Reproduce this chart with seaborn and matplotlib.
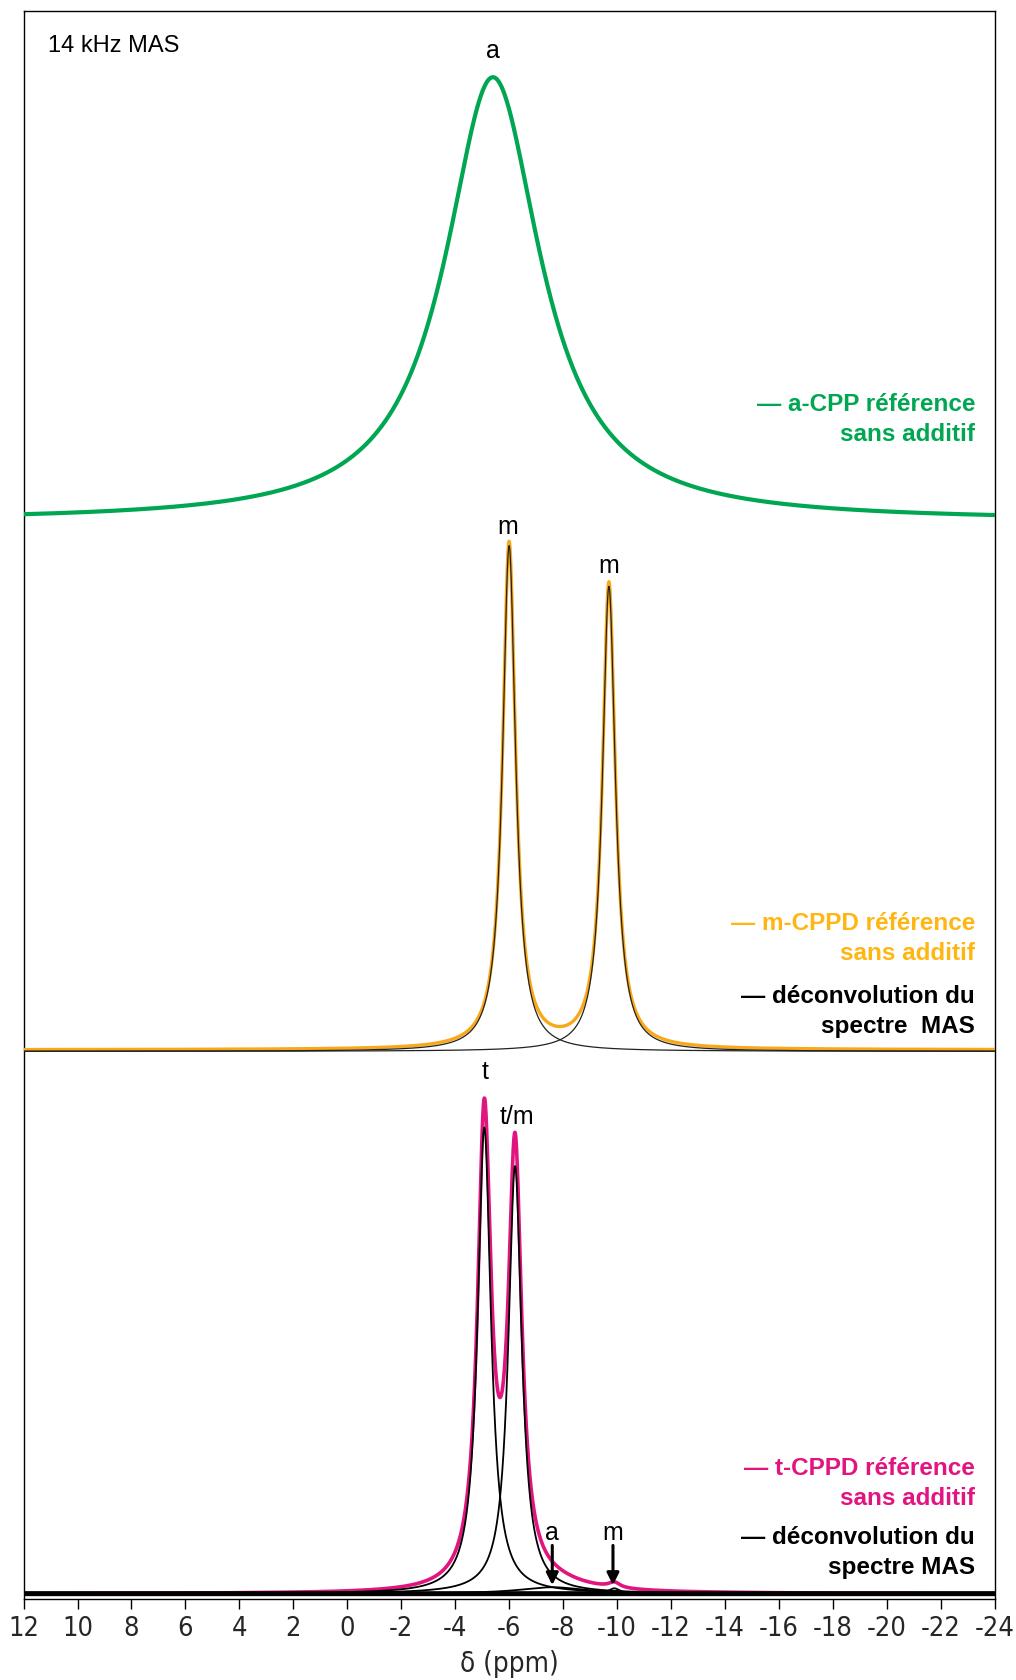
import numpy as np
import pandas as pd
import matplotlib
matplotlib.use("Agg")
import matplotlib.pyplot as plt
import seaborn as sns

# ---------------- data ----------------
ppm_ticks = [12, 10, 8, 6, 4, 2, 0, -2, -4, -6, -8, -10, -12, -14, -16, -18, -20, -22, -24]

# a-CPP reference (green): Lorentzian peak parameters
acpp_pos = [-5.4]
acpp_height = [414]
acpp_hwhm = [2.15]

# m-CPPD reference (orange) and its deconvolution components
mcppd_pos = [-6.0, -9.7]
mcppd_height = [472, 434]
mcppd_hwhm = [0.29, 0.29]

# t-CPPD reference (magenta) and its deconvolution components
tcppd_pos = [-5.08, -6.22, -7.6, -9.9]
tcppd_height = [435, 399, 6, 5]
tcppd_hwhm = [0.30, 0.30, 1.5, 0.25]

peak_labels = ["a", "m", "m", "t", "t/m", "a", "m"]
peak_label_ppm = [-5.4, -5.95, -9.7, -5.1, -6.3, -7.6, -9.85]

# vertical offsets of the stacked spectra (layout)
off_green, off_orange, off_magenta = 1006, 511, 5

GREEN = "#00A651"
ORANGE = "#F9A81A"
ORANGE_TXT = "#FFB612"
MAGENTA = "#E2147F"

ppm = np.linspace(12, -24, 3000)


def lor(x, p, h, g):
    return h * g**2 / ((x - p) ** 2 + g**2)


sns.set_theme(style="white")
plt.rcParams["font.family"] = ["Liberation Sans", "DejaVu Sans"]

fig = plt.figure(figsize=(10.16, 16.8), dpi=100)
ax = fig.add_axes([0.0232, 0.0482, 0.9558, 0.9454])


def draw(y, color, lw, z):
    df = pd.DataFrame({"ppm": ppm, "y": y})
    sns.lineplot(data=df, x="ppm", y="y", color=color, lw=lw, ax=ax,
                 estimator=None, sort=False, zorder=z)


# green
g_tot = off_green + sum(lor(ppm, p, h, w) for p, h, w in zip(acpp_pos, acpp_height, acpp_hwhm))
draw(g_tot, GREEN, 3.0, 3)

# orange + components
o_comp = [lor(ppm, p, h, w) for p, h, w in zip(mcppd_pos, mcppd_height, mcppd_hwhm)]
draw(off_orange + 1.5 + sum(o_comp), ORANGE, 2.4, 3)
for c in o_comp:
    draw(off_orange + c, "#222222", 0.9, 4)

# magenta + components
t_comp = [lor(ppm, p, h, w) for p, h, w in zip(tcppd_pos, tcppd_height, tcppd_hwhm)]
draw(off_magenta + sum(t_comp), MAGENTA, 2.6, 3)
for c in t_comp:
    draw(off_magenta + c, "black", 1.3, 4)
draw(np.full_like(ppm, off_magenta), "black", 3.6, 5)

ax.set_xlim(12, -24)
ax.set_ylim(0, 1482)
ax.set_xticks(ppm_ticks)
ax.set_xticklabels([str(t) for t in ppm_ticks])
ax.set_yticks([])
ax.set_xlabel("")
ax.set_ylabel("")
for s in ax.spines.values():
    s.set_color("black")
    s.set_linewidth(1.0)
ax.tick_params(axis="x", direction="out", length=7, width=1, color="black",
               bottom=True, pad=5, labelsize=19.5)
for lab in ax.get_xticklabels():
    lab.set_family(["DejaVu Sans"])
    lab.set_fontstretch("condensed")

fig.text(0.501, 0.0095, "δ (ppm)", ha="center", va="center", fontsize=20,
         family=["DejaVu Sans"], fontstretch="condensed")

# peak labels
label_y = [1444, 1000, 964, 492, 450, 62, 62]
for t, x, y in zip(peak_labels, peak_label_ppm, label_y):
    ax.text(x, y, t, ha="center", va="center", fontsize=18, color="black")

# arrows for small peaks
for x in [-7.6, -9.85]:
    ax.annotate("", xy=(x, 13), xytext=(x, 50),
                arrowprops=dict(arrowstyle="-|>", color="black", lw=2.2,
                                mutation_scale=18, shrinkA=0, shrinkB=0))

ax.text(11.09, 1449, "14 kHz MAS", ha="left", va="center", fontsize=17, color="black")

xr = -23.28
legend = [
    ("— a-CPP référence", 1115, GREEN),
    ("sans additif", 1087, GREEN),
    ("— m-CPPD référence", 630, ORANGE_TXT),
    ("sans additif", 602, ORANGE_TXT),
    ("— déconvolution du", 562, "black"),
    ("spectre  MAS", 534, "black"),
    ("— t-CPPD référence", 122, MAGENTA),
    ("sans additif", 94, MAGENTA),
    ("— déconvolution du", 57, "black"),
    ("spectre MAS", 29, "black"),
]
for t, y, c in legend:
    ax.text(xr, y, t, ha="right", va="center", fontsize=17.5, fontweight="bold", color=c)

fig.savefig("out.png", dpi=100, facecolor="white")
